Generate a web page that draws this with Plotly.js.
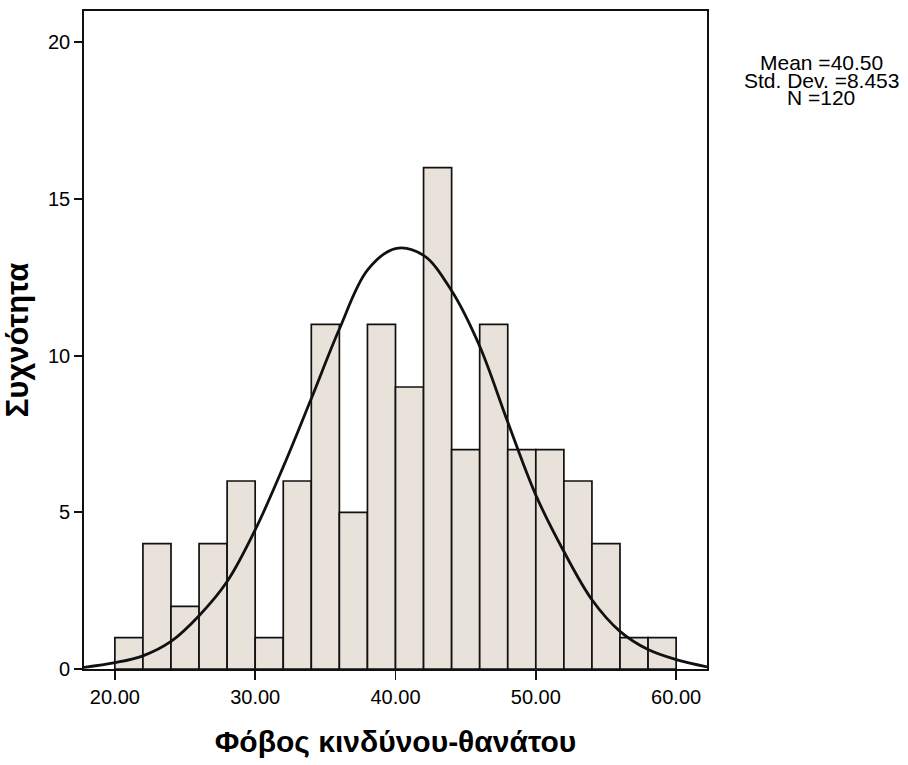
<!DOCTYPE html>
<html>
<head>
<meta charset="utf-8">
<script src="https://cdn.plot.ly/plotly-3.0.1.min.js"></script>
<style>html,body{margin:0;padding:0;background:#fff;}#chart{width:908px;height:765px;}</style>
</head>
<body>
<div id="chart"></div>
<script>
// Histogram bins (lower edges, width 2) and frequencies
const binLower = [20,22,24,26,28,30,32,34,36,38,40,42,44,46,48,50,52,54,56,58];
const counts   = [1,4,2,4,6,1,6,11,5,11,9,16,7,11,7,7,6,4,1,1];
const binWidth = 2;

// Normal curve
const curveX = [17.8,20,22,24,26,28,30,32,34,36,38,40,42,44,46,48,50,52,54,56,58,60,62.2];
const curveY = [0.05,0.2,0.42,0.88,1.7,2.79,4.44,6.45,8.63,10.85,12.73,13.42,13.2,12.07,10.3,7.88,5.55,3.75,2.21,1.2,0.62,0.3,0.07];

const xTickVals = [20,30,40,50,60];
const xTickText = ["20.00","30.00","40.00","50.00","60.00"];
const yTickVals = [0,5,10,15,20];

const statsLines = ["Mean =40.50","Std. Dev. =8.453","N =120"];

const xTitle = "Φόβος κινδύνου-θανάτου";
const yTitle = "Συχνότητα";

const FONT = "Liberation Sans, Arial, Helvetica, sans-serif";

const traces = [
  {
    type: "bar",
    x: binLower,
    y: counts,
    width: binWidth,
    offset: 0,
    marker: {color: "#e8e2da", line: {color: "#111", width: 1.7}},
    hoverinfo: "x+y"
  },
  {
    type: "scatter",
    mode: "lines",
    x: curveX,
    y: curveY,
    line: {color: "#111", width: 2.8, shape: "spline", smoothing: 1.0},
    hoverinfo: "skip"
  }
];

const annotations = statsLines.map((t, i) => ({
  xref: "paper", yref: "paper",
  x: (822 - 83.5) / 624, y: 1 - (52 + i*17.5)/658.5,
  xanchor: "center", yanchor: "middle",
  text: t, showarrow: false,
  font: {family: FONT, size: 21, color: "#000"}
}));

const layout = {
  width: 908, height: 765,
  margin: {l: 83.5, r: 200.5, t: 11, b: 95.5},
  paper_bgcolor: "#fff", plot_bgcolor: "#fff",
  showlegend: false,
  bargap: 0,
  font: {family: FONT, color: "#000"},
  xaxis: {
    range: [17.8, 62.2],
    tickvals: xTickVals, ticktext: xTickText,
    ticks: "outside", ticklen: 9, tickwidth: 1.8, tickcolor: "#111",
    showline: true, mirror: true, linecolor: "#111", linewidth: 1.8,
    showgrid: false, zeroline: false,
    tickfont: {family: FONT, size: 20, color: "#000"},
    title: {text: xTitle, font: {family: FONT, size: 30, color: "#000", weight: "bold"}, standoff: 24}
  },
  yaxis: {
    range: [0, 21],
    tickvals: yTickVals,
    ticks: "outside", ticklen: 8, tickwidth: 1.8, tickcolor: "#111",
    showline: true, mirror: true, linecolor: "#111", linewidth: 1.8,
    showgrid: false, zeroline: false,
    tickfont: {family: FONT, size: 20, color: "#000"},
    title: {text: yTitle, font: {family: FONT, size: 31, color: "#000", weight: "bold"}, standoff: 12}
  },
  annotations: annotations
};

Plotly.newPlot("chart", traces, layout, {displayModeBar: false, staticPlot: true});
</script>
</body>
</html>
